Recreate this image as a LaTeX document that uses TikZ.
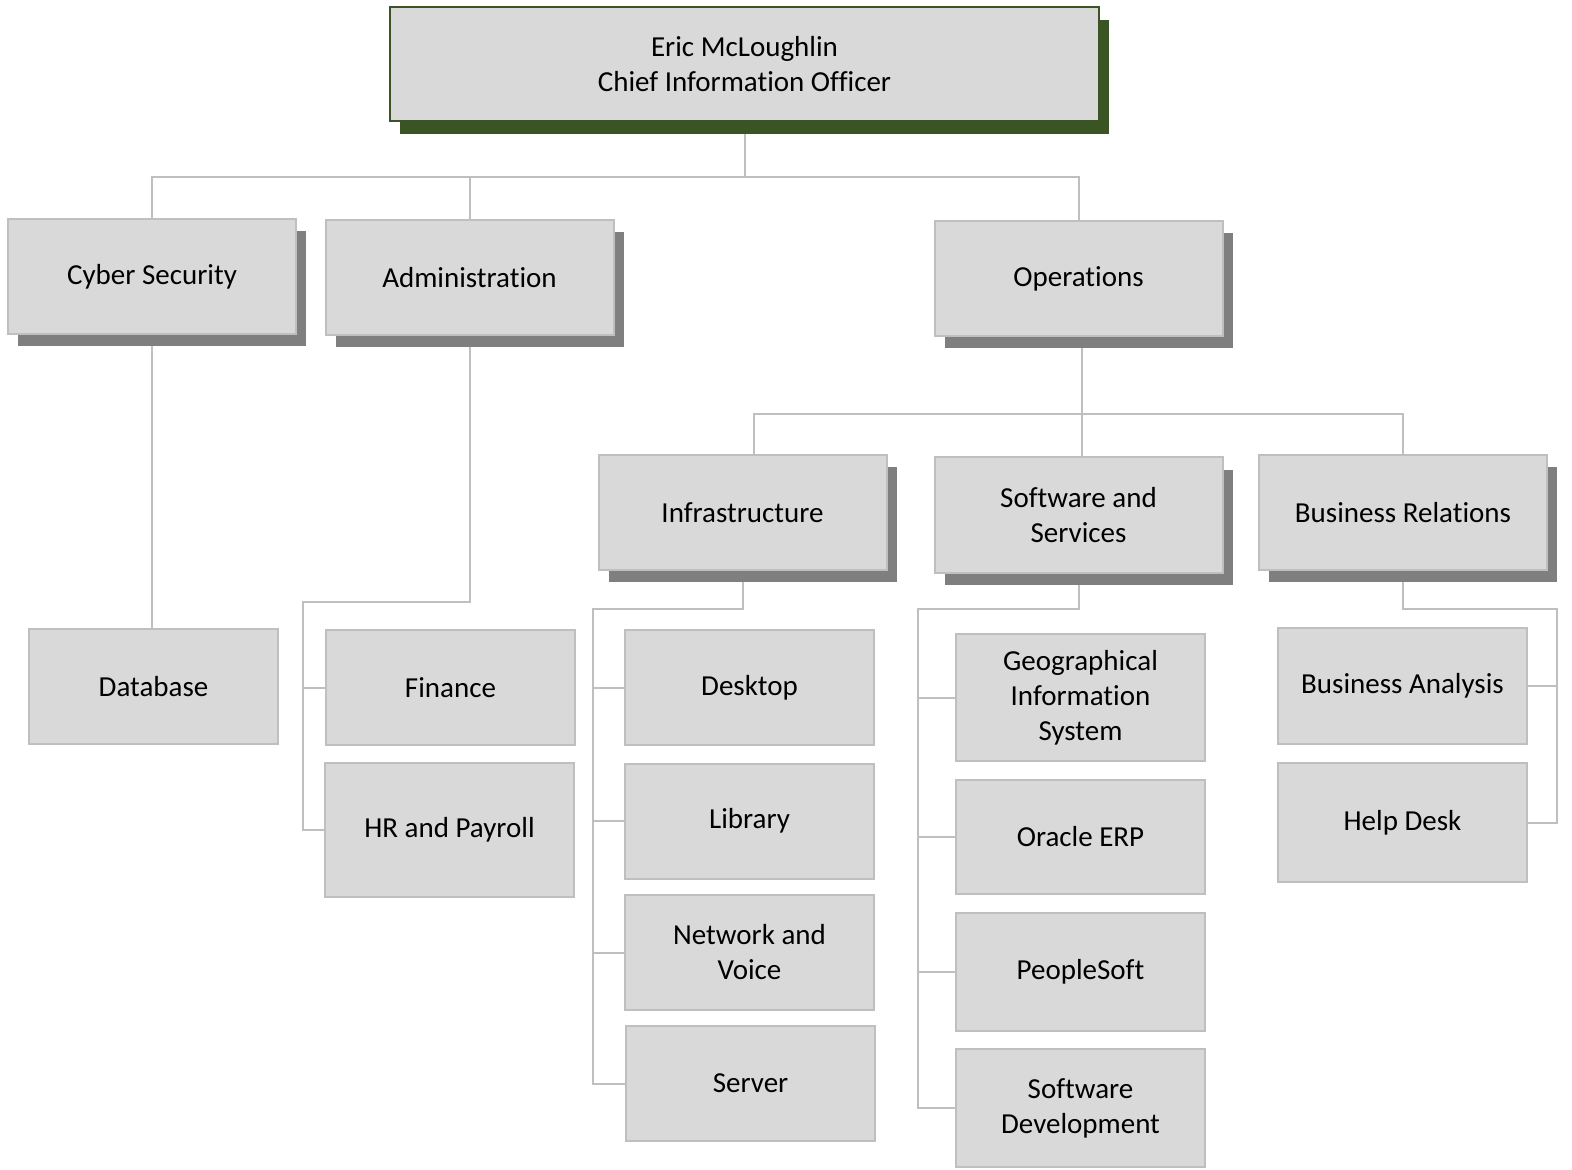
\documentclass[tikz,border=0pt]{standalone}
\usepackage{fontspec}
\setmainfont[RawFeature={-liga;-clig;-calt;-rlig}]{Carlito}
\usetikzlibrary{positioning, shadows, backgrounds, calc}
\definecolor{boxfill}{HTML}{D9D9D9}
\definecolor{boxline}{HTML}{BFBFBF}
\definecolor{cioshade}{HTML}{3A5423}
\definecolor{unitshade}{HTML}{7F7F7F}

\begin{document}
\begin{tikzpicture}[x=0.5pt, y=-0.5pt,
    box/.style={draw=boxline, line width=1pt, fill=boxfill, inner sep=2pt, align=center,
                font=\fontsize{14.5}{17.5}\selectfont},
    unit/.style={box, minimum width=144pt, minimum height=57.5pt,
                 drop shadow={shadow xshift=5pt, shadow yshift=-6pt, fill=unitshade, opacity=1}},
    leaf/.style={box, minimum width=124.5pt, minimum height=57.5pt},
    head/.style={box, draw=cioshade, minimum width=354.5pt, minimum height=57pt,
                 drop shadow={shadow xshift=5pt, shadow yshift=-6.5pt, fill=cioshade, opacity=1}},
    link/.style={draw=boxline, line width=1pt}]
  \useasboundingbox (0,0) rectangle (1572,1170);

  % top
  \node[head] (cio) at (744.5,64) {Eric McLoughlin\\Chief Information Officer};

  % second row
  \node[unit] (cyber) at (152,276.5) {Cyber Security};
  \node[unit] (admin) at (469.5,277.5) {Administration};
  \node[unit] (ops) at (1078.5,278.5) {Operations};

  % operations groups
  \node[unit] (infra) at (742.5,512.5) {Infrastructure};
  \node[unit] (sws) at (1078.5,515) {Software and\\Services};
  \node[unit] (bizrel) at (1403,512.5) {Business Relations};

  % leaves
  \node[leaf] (db) at (153.5,686.5) {Database};
  \node[leaf] (fin) at (450.5,687.5) {Finance};
  \node[leaf, minimum height=67pt] (hr) at (449.5,830) {HR and Payroll};
  \node[leaf] (desk) at (749.5,687.5) {Desktop};
  \node[leaf] (lib) at (749.5,821) {Library};
  \node[leaf] (net) at (749.5,952.5) {Network and\\Voice};
  \node[leaf] (srv) at (750.5,1083.5) {Server};
  \node[leaf, minimum height=63.5pt] (gis) at (1080.5,697.5) {Geographical\\Information\\System};
  \node[leaf, minimum height=57pt] (erp) at (1080.5,837) {Oracle ERP};
  \node[leaf, minimum height=59pt] (psoft) at (1080.5,972) {PeopleSoft};
  \node[leaf, minimum height=59pt] (swdev) at (1080.5,1108) {Software\\Development};
  \node[leaf, minimum height=58pt] (ba) at (1402.5,686) {Business Analysis};
  \node[leaf, minimum height=59.5pt] (hd) at (1402.5,822.5) {Help Desk};

  % connectors
  \begin{scope}[on background layer]
    \coordinate (topbus) at (0,177);
    \coordinate (opsbus) at (0,414);
    \coordinate (adminbus) at (303,602);
    \coordinate (infrabus) at (593,609);
    \coordinate (swsbus) at (918,609);
    \coordinate (bizbus) at (1557,609);

    \draw[link] (cio.south) -- (cio.south |- topbus);
    \draw[link] (cyber.north) -- (cyber.north |- topbus) -| (ops.north);
    \draw[link] (admin.north) -- (admin.north |- topbus);

    \draw[link] (cyber.south) -- (cyber.south |- db.north);
    \draw[link] (admin.south) |- (adminbus) |- (hr.west);
    \draw[link] (adminbus |- fin.west) -- (fin.west);

    \draw[link] ([xshift=1.75pt]ops.south) -- ([xshift=1.75pt]ops.south |- opsbus);
    \draw[link] ([xshift=5.5pt]infra.north) -- ([xshift=5.5pt]infra.north |- opsbus) -| (bizrel.north);
    \draw[link] ([xshift=1.75pt]sws.north) -- ([xshift=1.75pt]sws.north |- opsbus);

    \draw[link] (infra.south) |- (infrabus) |- (srv.west);
    \foreach \n in {desk, lib, net}
      \draw[link] (infrabus |- \n.west) -- (\n.west);

    \draw[link] (sws.south) |- (swsbus) |- (swdev.west);
    \foreach \n in {gis, erp, psoft}
      \draw[link] (swsbus |- \n.west) -- (\n.west);

    \draw[link] (bizrel.south) |- (bizbus) |- (hd.east);
    \draw[link] (bizbus |- ba.east) -- (ba.east);
  \end{scope}
\end{tikzpicture}
\end{document}
